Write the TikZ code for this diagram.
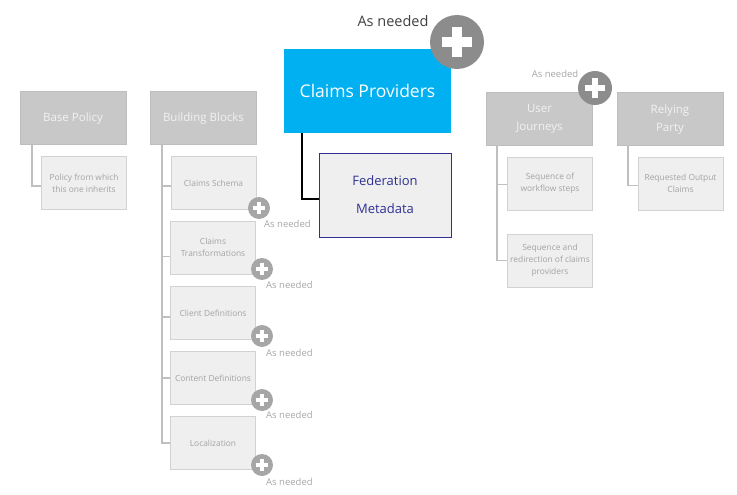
\documentclass[tikz,border=0pt]{standalone}
\usepackage{fontspec}
\setmainfont{Open Sans}
\definecolor{headgray}{HTML}{C8C8C8}
\definecolor{headedge}{HTML}{BDBDBD}
\definecolor{headtext}{HTML}{F2F2F2}
\definecolor{subgray}{HTML}{EFEFEF}
\definecolor{subedge}{HTML}{D2D2D2}
\definecolor{subtext}{HTML}{A3A3A3}
\definecolor{linkgray}{HTML}{BFBFBF}
\definecolor{cpblue}{HTML}{00B0F0}
\definecolor{fednavy}{HTML}{2E3192}
\definecolor{notegray}{HTML}{A6A6A6}

\begin{document}
\begin{tikzpicture}[x=1pt, y=-1pt,
  head/.style={draw=headedge, fill=headgray, text=headtext, minimum width=106pt,
    minimum height=53pt, inner sep=0pt, align=center, text depth=1.5pt,
    font=\fontsize{11.5}{18}\selectfont},
  sub/.style={draw=subedge, fill=subgray, text=subtext, minimum width=85pt,
    minimum height=53pt, inner sep=0pt, align=center, font=\fontsize{8.4}{12}\selectfont},
  link/.style={draw=linkgray, line width=1.3pt},
  note/.style={text=notegray, inner sep=0pt, font=\fontsize{9.5}{11}\selectfont}]
  \useasboundingbox (0,0) rectangle (737,495);
  % top level boxes
  \node[head] (base) at (73,118) {Base Policy};
  \node[head] (bb) at (203.5,118) {Building Blocks};
  \node[head] (uj) at (539.5,118.5) {User\\Journeys};
  \node[head] (rp) at (670,118.5) {Relying\\Party};
  \node[fill=cpblue, text=white, minimum width=167pt, minimum height=84pt, inner sep=0pt,
    font=\fontsize{17.5}{20}\selectfont] (cp) at (367.5,91) {Claims Providers};
  \node[draw=fednavy, fill=subgray, text=fednavy, line width=0.9pt, minimum width=132pt,
    minimum height=84pt, inner sep=0pt, align=center, font=\fontsize{13}{28}\selectfont]
    (fed) at (385,195) {Federation\\Metadata};
  % children
  \node[sub] (pol) at (84,183) {Policy from which\\this one inherits};
  \node[sub] (cs) at (213.5,183) {Claims Schema};
  \node[sub] (ct) at (213,247.5) {Claims\\Transformations};
  \node[sub] (cd) at (213,313) {Client Definitions};
  \node[sub] (cdef) at (213,378) {Content Definitions};
  \node[sub] (loc) at (213,443) {Localization};
  \node[sub] (seqa) at (550,183.5) {Sequence of\\workflow steps};
  \node[sub] (seqb) at (550,260.5) {Sequence and\\redirection of claims\\providers};
  \node[sub] (roc) at (680.5,183.5) {Requested Output\\Claims};
  % connectors
  \draw[link] ([xshift=-41]base.south) |- ([yshift=-3]pol.west);
  \foreach \c/\d in {cs/3, ct/9, cd/4, cdef/0, loc/0}
    \draw[link] ([xshift=-41.5]bb.south) |- ([yshift=-\d]\c.west);
  \foreach \c/\d in {seqa/1, seqb/0}
    \draw[link] ([xshift=-42.5]uj.south) |- ([yshift=-\d]\c.west);
  \draw[link] ([xshift=-42]rp.south) |- ([yshift=-2]roc.west);
  \draw[line width=2pt] ([xshift=-65.5]cp.south) |- ([yshift=-4]fed.west);
  % add buttons
  \foreach \px/\py/\pr/\pc in {457/42/27/black!45, 595/88/17/black!45,
      259/208/11/notegray, 262/269/11/notegray, 262/336/11/notegray,
      262/400/11/notegray, 262/465/11/notegray} {
    \fill[\pc] (\px,\py) circle (\pr);
    \draw[white, line width={0.34*\pr}] (\px-0.57*\pr,\py) -- (\px+0.57*\pr,\py)
      (\px,\py-0.57*\pr) -- (\px,\py+0.57*\pr);
  }
  % as needed labels
  \node[text=black!75, inner sep=0pt, font=\fontsize{14.5}{16}\selectfont] (ntop) at (393,21) {As needed};
  \node[note] (nuj) at (555,74) {As needed};
  \node[note, anchor=west] (ncs) at (264,224) {As needed};
  \node[note, anchor=west] (nct) at (266,285) {As needed};
  \node[note, anchor=west] (ncd) at (266,353) {As needed};
  \node[note, anchor=west] (ncdef) at (266,415) {As needed};
  \node[note, anchor=west] (nloc) at (266,482) {As needed};
\end{tikzpicture}
\end{document}
